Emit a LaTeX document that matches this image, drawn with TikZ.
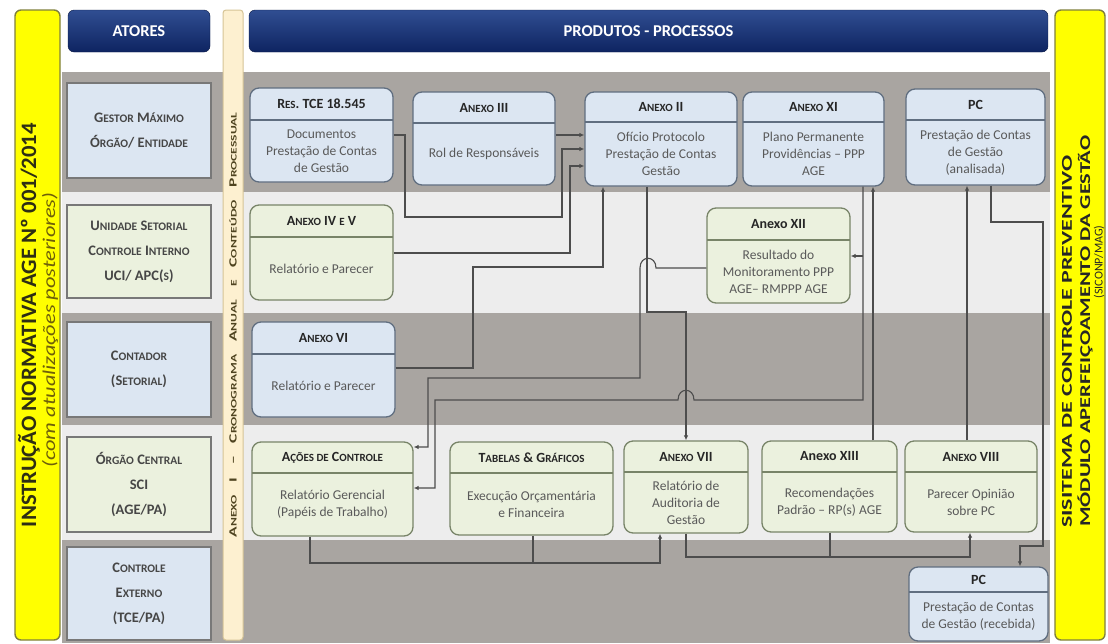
\documentclass[tikz,border=0pt]{standalone}
\usepackage{fontspec}
\setmainfont{Carlito}
\usepackage{graphicx}
\usepackage{tikz}
\usetikzlibrary{arrows.meta}
\definecolor{bandgray}{RGB}{169,165,161}
\definecolor{bandlight}{RGB}{237,237,237}
\definecolor{boxblue}{RGB}{220,230,242}
\definecolor{boxgreen}{RGB}{235,241,222}
\definecolor{blueedge}{RGB}{96,110,128}
\definecolor{greenedge}{RGB}{120,132,104}
\definecolor{actoredge}{RGB}{120,120,120}
\definecolor{navytop}{RGB}{48,78,146}
\definecolor{navybot}{RGB}{14,36,97}
\definecolor{signyellow}{RGB}{255,255,0}
\definecolor{yellowedge}{RGB}{128,128,60}
\definecolor{beige}{RGB}{253,240,208}
\definecolor{beigeedge}{RGB}{214,196,150}
\definecolor{beigetext}{RGB}{79,68,32}
\definecolor{inktext}{RGB}{38,38,38}
\definecolor{softtext}{RGB}{89,89,89}
\definecolor{actortext}{RGB}{70,70,70}
\definecolor{linegray}{RGB}{77,77,77}
\definecolor{lefttext}{RGB}{46,46,20}
\definecolor{olivetext}{RGB}{110,95,10}

% fake small caps
\newcommand{\hs}[1]{{\fontsize{11}{12}\selectfont #1}}
\newcommand{\as}[1]{{\fontsize{11.5}{12}\selectfont #1}}
\newcommand{\bs}[1]{{\fontsize{8.5}{10}\selectfont #1}}

% style, name, x1, y1, x2, y2, divider, header, body
\newcommand{\probox}[9]{%
  \node[#1, minimum width={#5-#3}, minimum height={#6-#4}] (#2) at ({(#3+#5)/2},{(#4+#6)/2}) {};
  \draw[#1line] (#3,#7) -- (#5,#7);
  \node[headtxt] (#2h) at ({(#3+#5)/2},{(#4+#7)/2}) {#8};
  \node[bodytxt] (#2b) at ({(#3+#5)/2},{(#7+#6)/2}) {#9};
}

\begin{document}
\begin{tikzpicture}[x=1pt, y=-1pt,
  bbox/.style={draw=blueedge, fill=boxblue, line width=1.3pt, rounded corners=9pt},
  gbox/.style={draw=greenedge, fill=boxgreen, line width=1.3pt, rounded corners=9pt},
  bboxline/.style={draw=blueedge, line width=1.1pt},
  gboxline/.style={draw=greenedge, line width=1.1pt},
  headtxt/.style={font=\fontsize{14}{16}\selectfont\bfseries, text=inktext, inner sep=0},
  bodytxt/.style={font=\fontsize{13.5}{17}\selectfont, text=softtext, align=center, inner sep=0},
  actor/.style={draw=actoredge, line width=1.6pt, minimum width=144, align=center,
    font=\fontsize{14.5}{25}\selectfont\bfseries, text=actortext},
  navy/.style={draw=navybot!70!black, rounded corners=6pt, top color=navytop, bottom color=navybot,
    text=white, font=\fontsize{16.5}{18}\selectfont\bfseries, minimum height=42},
  wire/.style={draw=linegray, line width=1.1pt},
  conn/.style={wire, -{Latex[length=5pt,width=4.5pt]}}]

  \fill[white] (0,0) rectangle (1108,643);
  \useasboundingbox (0,0) rectangle (1108,643);

  % rows
  \foreach \ya/\yb/\bc in {72/192/bandgray,192/313/bandlight,313/425/bandgray,425/540/bandlight,540/643/bandgray}
    { \fill[\bc] (62,\ya) rectangle (1050,\yb); }

  % side bars
  \draw[fill=signyellow, draw=yellowedge, line width=1.4pt, rounded corners=6pt] (15,10) rectangle (60,640);
  \draw[fill=signyellow, draw=yellowedge, line width=1.4pt, rounded corners=6pt] (1055,10) rectangle (1105,640);
  \draw[fill=beige, draw=beigeedge, line width=1pt, rounded corners=3pt] (223,10) rectangle (243,640);

  \node[rotate=90, inner sep=0, font=\fontsize{22}{24}\selectfont\bfseries, text=lefttext] (instr) at (29,325)
    {\resizebox{404pt}{\height}{INSTRUÇÃO NORMATIVA AGE Nº 001/2014}};
  \node[rotate=90, inner sep=0, font=\fontsize{18}{20}\selectfont\itshape, text=olivetext] (atual) at (50,330)
    {\resizebox{275pt}{\height}{(com atualizações posteriores)}};
  \node[rotate=90, inner sep=0, font=\fontsize{11}{13}\selectfont\bfseries, text=beigetext] (crono) at (233,325)
    {\resizebox{425pt}{\height}{\makebox[267pt][s]{A\bs{NEXO} I – C\bs{RONOGRAMA} A\bs{NUAL} \bs{E} C\bs{ONTEÚDO} P\bs{ROCESSUAL}}}};
  \node[rotate=90, anchor=west, inner sep=0, font=\fontsize{15}{17}\selectfont\bfseries, text=inktext] (siconpa) at (1067,528)
    {\resizebox{372pt}{\height}{SISITEMA DE CONTROLE PREVENTIVO}};
  \node[rotate=90, anchor=west, inner sep=0, font=\fontsize{15}{17}\selectfont\bfseries, text=inktext] (siconpb) at (1085,527)
    {\resizebox{391pt}{\height}{MÓDULO APERFEIÇOAMENTO DA GESTÃO}};
  \node[rotate=90, inner sep=0, font=\fontsize{12}{14}\selectfont, text=inktext] (siconpc) at (1099,262) {(SICONP/MAG)};

  % headers
  \node[navy, minimum width=142] (atores) at (139,31) {ATORES};
  \node[navy, minimum width=799] (produtos) at (648.5,31) {PRODUTOS - PROCESSOS};

  % actors
  \node[actor, fill=boxblue, minimum height=95] (gestor) at (139,130.5) {G\as{ESTOR} M\as{ÁXIMO}\\Ó\as{RGÃO}/ E\as{NTIDADE}};
  \node[actor, fill=boxgreen, minimum height=93] (unidade) at (139,251.5) {U\as{NIDADE} S\as{ETORIAL}\\C\as{ONTROLE} I\as{NTERNO}\\UCI/ APC(\as{S})};
  \node[actor, fill=boxblue, minimum height=95] (contador) at (139,369.5) {C\as{ONTADOR}\\(S\as{ETORIAL})};
  \node[actor, fill=boxgreen, minimum height=95] (orgao) at (139,484.5) {Ó\as{RGÃO} C\as{ENTRAL}\\SCI\\(AGE/PA)};
  \node[actor, fill=boxblue, minimum height=93] (externo) at (139,593.5) {C\as{ONTROLE}\\E\as{XTERNO}\\(TCE/PA)};

  % products
  \probox{bbox}{res}{250}{88}{393}{182}{120}{R\hs{ES}. TCE 18.545}{Documentos\\Prestação de Contas\\de Gestão}
  \probox{bbox}{an3}{413}{92}{555}{185}{123}{A\hs{NEXO} III}{Rol de Responsáveis}
  \probox{bbox}{an2}{585}{92}{737}{186}{122}{A\hs{NEXO} II}{Ofício Protocolo\\Prestação de Contas\\Gestão}
  \probox{bbox}{an11}{743}{92}{884}{186}{122}{A\hs{NEXO} XI}{Plano Permanente\\Providências – PPP\\AGE}
  \probox{bbox}{pca}{906}{89}{1045}{185}{120}{PC}{Prestação de Contas\\de Gestão\\(analisada)}
  \probox{gbox}{an45}{250}{205}{393}{300}{237}{A\hs{NEXO} IV \hs{E} V}{Relatório e Parecer}
  \probox{gbox}{an12}{707}{208}{850}{303}{240}{Anexo XII}{Resultado do\\Monitoramento PPP\\AGE– RMPPP AGE}
  \probox{bbox}{an6}{252}{322}{395}{417}{354}{A\hs{NEXO} VI}{Relatório e Parecer}
  \probox{gbox}{acoes}{252}{442}{413}{536}{473}{A\hs{ÇÕES DE} C\hs{ONTROLE}}{Relatório Gerencial\\(Papéis de Trabalho)}
  \probox{gbox}{tab}{450}{442}{613}{535}{473}{T\hs{ABELAS} \& G\hs{RÁFICOS}}{Execução Orçamentária\\e Financeira}
  \probox{gbox}{an7}{624}{441}{748}{533}{472}{A\hs{NEXO} VII}{Relatório de\\Auditoria de\\Gestão}
  \probox{gbox}{an13}{762}{441}{897}{532}{472}{Anexo XIII}{Recomendações\\Padrão – RP(s) AGE}
  \probox{gbox}{an8}{905}{441}{1037}{532}{472}{A\hs{NEXO} VIII}{Parecer Opinião\\sobre PC}
  \probox{bbox}{pcr}{909}{567}{1048}{641}{592}{PC}{Prestação de Contas\\de Gestão (recebida)}

  % flows into Anexo II
  \draw[conn] (an3.east |- 0,135) -- (an2.west |- 0,135);
  \draw[conn] (res.east |- 0,135) -- (405,135) -- (405,217) -- (562,217) -- (562,149) -- (an2.west |- 0,149);
  \draw[conn] (an45.east |- 0,253) -- (570,253) -- (570,166) -- (an2.west |- 0,166);
  \draw[conn] (an6.east |- 0,368) -- (473,368) -- (473,267) -- (603,267) -- (an2.south -| 603,0);

  % middle flows
  \draw[conn] (an2.south -| 647,0) -- (647,312) -- (686,312) -- (an7.north -| 686,0);
  \draw[conn] (an12.west |- 0,268) -- (656,268) .. controls (656,255) and (640,255) .. (640,268)
    -- (640,378) -- (428,378) -- (428,447) -- (acoes.east |- 0,447);
  \coordinate (fork) at (863,256);
  \draw[conn] (an11.south -| 863,0) -- (863,400) -- (694,400) .. controls (694,387) and (678,387) .. (678,400)
    -- (435,400) -- (435,488) -- (acoes.east |- 0,488);
  \draw[conn] (fork) -- (an12.east |- fork);
  \draw[conn] (an13.north -| 873,0) -- (an11.south -| 873,0);
  \draw[conn] (an8.north -| 967,0) -- (pca.south -| 967,0);
  \draw[conn] (pca.south -| 991,0) -- (991,222) -- (1043,222) -- (1043,546) -- (1020,546) -- (pcr.north -| 1020,0);

  % bottom flows
  \draw[conn] (acoes.south -| 310,0) -- (310,563) -- (660,563) -- (an7.south -| 660,0);
  \draw[wire] (tab.south -| 533,0) -- (533,563);
  \draw[conn] (an7.south -| 686,0) -- (686,557) -- (970,557) -- (an8.south -| 970,0);
  \draw[wire] (an13.south -| 830,0) -- (830,557);
\end{tikzpicture}
\end{document}
